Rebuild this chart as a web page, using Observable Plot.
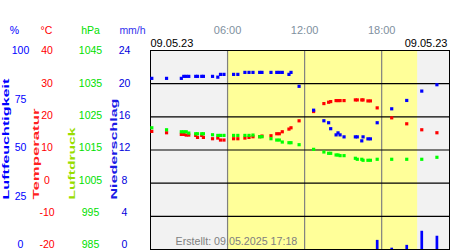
<!DOCTYPE html>
<html><head><meta charset="utf-8">
<script src="https://cdn.jsdelivr.net/npm/d3@7"></script>
<script src="https://cdn.jsdelivr.net/npm/@observablehq/plot@0.6"></script>
<style>
html,body{margin:0;padding:0;background:#fff;}
svg{display:block;}
</style></head><body><div id="chart"></div>
<script>
// ---- data (hours of 09.05.23) ----
const times = [0.1, 1.25, 2.4, 2.59, 2.78, 2.98, 3.52, 3.66, 3.99, 4.12, 4.83, 5.24, 5.45, 5.72,
  6.47, 6.8, 7.35, 7.67, 7.98, 8.5, 8.68, 9.38, 9.83, 10.03, 10.26, 10.78, 10.94, 11.57,
  12.7, 13.5, 13.87, 14.03, 14.45, 14.6, 14.76, 15.07, 15.95, 16.1, 16.45, 16.55, 16.93, 17.12,
  17.65, 18.78, 19.95, 21.12, 22.3];
const humidity = [86, 86, 86, 87, 87, 87, 87, 87, 87, 87, 87, 86.6, 88, 88,
  88, 88, 89, 89, 89, 89, 89, 89, 89, 89, 89, 88, 89, 82,
  70, 64.7, 63.7, 60.7, 57.6, 58.6, 57.6, 56.6, 56.6, 56.6, 54.6, 56.6, 55.6, 55.6,
  63.7, 70.7, 74.9, 79.6, 82.8];
const temperature = [15.6, 15.2, 14.7, 14.7, 14.5, 14.5, 14.4, 13.8, 14.4, 13.8, 13.4, 13.6, 13.0, 13.0,
  13.4, 13.4, 13.6, 13.8, 14.0, 14.0, 14.2, 14.3, 14.9, 14.9, 15.5, 16.3, 16.7, 18.8,
  21.6, 24.0, 24.4, 24.6, 24.9, 24.9, 24.9, 24.9, 25.1, 25.1, 25.1, 25.1, 24.8, 24.8,
  22.7, 19.7, 17.9, 16.1, 15.2];
const pressure = [1021.7, 1021.1, 1020.5, 1020.5, 1020.5, 1020.1, 1019.9, 1019.9, 1019.9, 1019.9, 1019.6, 1019.4, 1019.4, 1019.4,
  1019.4, 1019.4, 1019.4, 1019.4, 1019.5, 1019.0, 1019.0, 1018.4, 1018.0, 1018.0, 1017.4, 1017.2, 1017.2, 1016.6,
  1015.2, 1014.4, 1014.0, 1014.0, 1013.5, 1013.5, 1013.3, 1013.3, 1012.5, 1012.2, 1012.2, 1011.9, 1011.9, 1011.9,
  1012.2, 1012.2, 1012.2, 1012.2, 1012.8];
const rainTimes = [17.65, 18.78, 19.95, 21.12, 22.3];
const rain = [1.1, 0.16, 0.5, 2.2, 1.6];

const humTicks = [0, 25, 50, 75, 100];
const tempTicks = [-20, -10, 0, 10, 20, 30, 40];
const presTicks = [985, 995, 1005, 1015, 1025, 1035, 1045];
const rainTicks = [0, 4, 8, 12, 16, 20, 24];
const hourTicks = [6, 12, 18];
const hourLabels = ["06:00", "12:00", "18:00"];
const units = ["%", "°C", "hPa", "mm/h"];
const titles = ["Luftfeuchtigkeit", "Temperatur", "Luftdruck", "Niederschlag"];
const dayStart = 6.0, dayEnd = 20.8, xEnd = 23.28;
const dateLabel = "09.05.23";
const created = "Erstellt: 09.05.2025 17:18";

// ---- normalisation to common axis fraction ----
const fHum = v => v / 100;
const fTemp = v => (v + 20) / 60;
const fPres = v => (v - 985) / 60;
const fRain = v => v / 24;
const lab = f => 0.0226 + 0.9759 * f;
const headY = 1.1005;

const idx = d3.range(times.length);
const rIdx = d3.range(rainTimes.length);
const FONT = "'Liberation Sans', Arial, sans-serif";
const FS = 10.5;

function colLabels(ticks, f, color, px) {
  return Plot.text(ticks, {y: d => lab(f(d)), text: d => String(d), frameAnchor: "left", dx: px - 150,
    textAnchor: "middle", lineAnchor: "middle", fill: color, fontSize: FS});
}
function header(t, color, px) {
  return Plot.text([t], {y: () => headY, text: d => d, frameAnchor: "left", dx: px - 150,
    textAnchor: "middle", lineAnchor: "middle", fill: color, fontSize: FS});
}
function title(t, color, px) {
  return Plot.text([t], {y: () => 0.251, text: d => d, frameAnchor: "left", dx: px - 150, rotate: -90,
    textAnchor: "start", lineAnchor: "middle", fill: color, fontSize: 9, fontWeight: "bold", className: "rot"});
}

const chart = Plot.plot({
  width: 450, height: 250,
  marginTop: 50, marginBottom: 1, marginLeft: 150, marginRight: 1,
  style: {fontFamily: FONT, background: "#fff", overflow: "visible"},
  x: {domain: [0, xEnd], axis: null},
  y: {domain: [0, 1], axis: null},
  marks: [
    Plot.rect([[0, xEnd]], {x1: d => d[0], x2: d => d[1], y1: () => 0, y2: () => 1, fill: "#f2f2f2"}),
    Plot.rect([[dayStart, dayEnd]], {x1: d => d[0], x2: d => d[1], y1: () => 0, y2: () => 1, fill: "#ffff99"}),
    Plot.ruleX(hourTicks, {stroke: "#808080", strokeWidth: 1.2}),
    Plot.ruleY(d3.range(1, 6).map(k => k / 6), {stroke: "#000", strokeWidth: 1.1}),
    Plot.frame({stroke: "#000"}),
    Plot.ruleX(rIdx, {x: i => rainTimes[i], y1: () => 0, y2: i => fRain(rain[i]), stroke: "#0000ff", strokeWidth: 2.7}),
    Plot.dot(idx, {x: i => times[i], y: i => fTemp(temperature[i]), symbol: "square", r: 1.8, fill: "#ff0000"}),
    Plot.dot(idx, {x: i => times[i], y: i => fPres(pressure[i]), symbol: "square", r: 1.8, fill: "#00ff00"}),
    Plot.dot(idx, {x: i => times[i], y: i => fHum(humidity[i]), symbol: "square", r: 1.8, fill: "#0000ff"}),
    // column tick labels
    colLabels(humTicks, fHum, "#0000ff", 20),
    colLabels(tempTicks, fTemp, "#ff0000", 46.5),
    colLabels(presTicks, fPres, "#00e000", 90),
    colLabels(rainTicks, fRain, "#0000dd", 124),
    // unit headers
    header(units[0], "#0000ff", 14),
    header(units[1], "#ff0000", 46),
    header(units[2], "#00e000", 90),
    header(units[3], "#3333ee", 132),
    // rotated titles
    title(titles[0], "#0000ff", 5.5),
    title(titles[1], "#ff2020", 35.5),
    title(titles[2], "#99dd00", 72),
    title(titles[3], "#1a1ae6", 113.5),
    // time labels
    Plot.text(hourTicks, {x: d => d, y: () => headY, text: (d, i) => hourLabels[i], fill: "#8090a0",
      fontSize: 11, textAnchor: "middle", lineAnchor: "middle"}),
    Plot.text([dateLabel], {frameAnchor: "top-left", text: d => d, dy: -7, textAnchor: "start", lineAnchor: "middle", fill: "#000", fontSize: 11}),
    Plot.text([dateLabel], {frameAnchor: "top-right", text: d => d, dx: -2, dy: -7, textAnchor: "end", lineAnchor: "middle", fill: "#000", fontSize: 11}),
    Plot.text([created], {frameAnchor: "bottom-left", text: d => d, dx: 25, dy: -8, textAnchor: "start", lineAnchor: "middle", fill: "#808080", fontSize: 10.7})
  ]
});
const titleLengths = [121, 91, 72, 101];
d3.select(chart).selectAll(".rot text").each(function(d, i) {
  d3.select(this).attr("textLength", titleLengths[i]).attr("lengthAdjust", "spacingAndGlyphs");
});
document.getElementById("chart").appendChild(chart);
</script></body></html>
